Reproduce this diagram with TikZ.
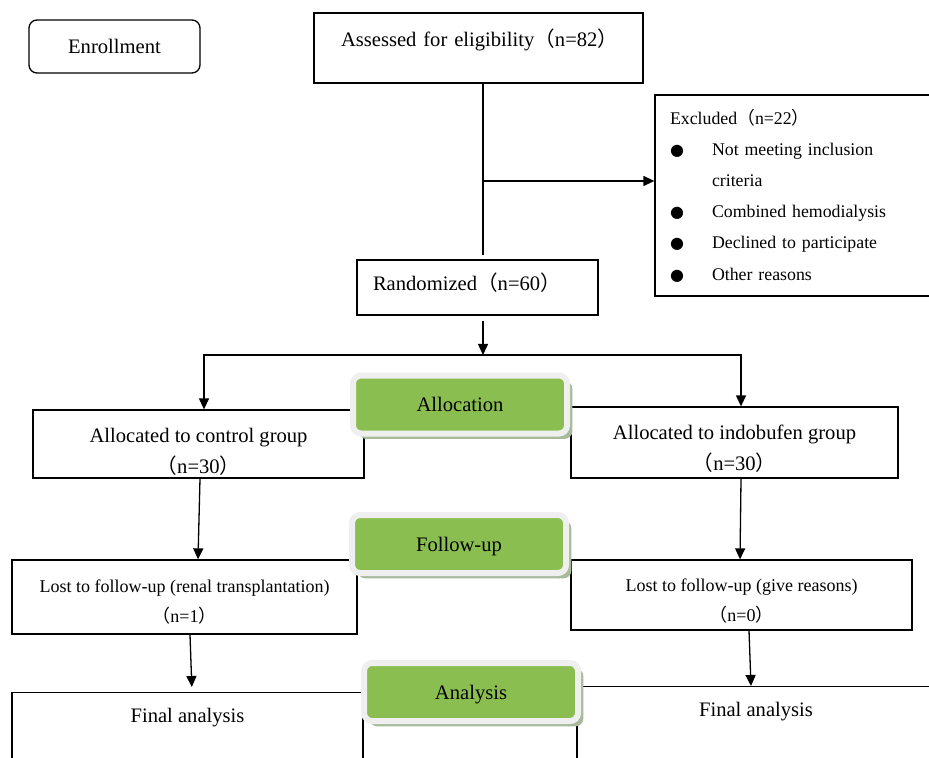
\documentclass[tikz,border=0pt]{standalone}
\usepackage{fontspec}
\setmainfont{Liberation Serif}
\newfontfamily\cjk{Noto Sans CJK SC}
\newfontfamily\symb{DejaVu Sans}
\usepackage{tikz}
\usetikzlibrary{arrows.meta, shadows}

\definecolor{stagegreen}{RGB}{139,190,80}
\definecolor{stagerim}{RGB}{239,239,239}
\definecolor{stageshade}{RGB}{169,185,155}

\newcommand{\fwl}{{\cjk （}}
\newcommand{\fwr}{{\cjk ）}}
\newcommand{\dotitem}{\makebox[21pt][l]{{\symb\fontsize{8}{8}\selectfont ●}}}
\newcommand{\lowerby}[1]{\rule{0pt}{#1}}

\begin{document}
\begin{tikzpicture}[x=0.5pt, y=-0.5pt, line width=0.65pt,
        >={Triangle[width=5pt,length=5.5pt]},
        box/.style={draw, inner sep=0pt, align=center,
            font=\fontsize{10.3}{15.5}\selectfont},
        small/.style={font=\fontsize{9}{15}\selectfont},
        stage/.style={fill=stagegreen, draw=stagerim, line width=3pt,
            rounded corners=4pt, minimum width=107pt, minimum height=29pt,
            text depth=0pt, font=\fontsize{10.3}{12}\selectfont,
            drop shadow={shadow xshift=2.7pt, shadow yshift=-2.7pt,
                fill=stageshade, opacity=1}}]
                \useasboundingbox (0,0) rectangle (929,758);
                \clip (0,0) rectangle (929,758);

                \node[box, rounded corners=4pt, minimum width=85.5pt, minimum height=26.5pt] (enroll) at (114.5, 46.5) {Enrollment};
                \node[box, align=left, text width=164.5pt, minimum height=35pt, text depth=10pt] (assess) at (478.5, 48) {\hspace*{13.5pt}Assessed for eligibility\fwl n=82\fwr};
                \node[box, align=left, text width=135pt, inner xsep=7.5pt, minimum height=100.5pt, font=\fontsize{8.9}{15.6}\selectfont] (excl) at (805, 195.5) {Excluded\fwl n=22\fwr\\
                    \dotitem Not meeting inclusion\\
                    \hspace*{21pt}criteria\\
                    \dotitem Combined hemodialysis\\
                    \dotitem Declined to participate\\
                    \dotitem Other reasons};
                \node[box, align=left, text width=120.5pt, minimum height=27.5pt, text depth=6pt] (rand) at (477.5, 287.5) {\hspace*{8pt}Randomized\fwl n=60\fwr};

                \node[box, minimum width=165.5pt, minimum height=34pt] (ctrl) at (198.5, 444) {\lowerby{15.3pt}Allocated to control group\\\fwl n=30\fwr};
                \node[box, minimum width=163.5pt, minimum height=35.5pt] (indo) at (734.5, 442.5) {\lowerby{13.3pt}Allocated to indobufen group\\\fwl n=30\fwr};
                \node[box, small, minimum width=172.5pt, minimum height=37pt] (lostl) at (184.5, 597) {\lowerby{11pt}Lost to follow-up (renal transplantation)\\\fwl n=1\fwr};
                \node[box, small, minimum width=170.5pt, minimum height=35pt] (lostr) at (741.5, 595) {\lowerby{12pt}Lost to follow-up (give reasons)\\\fwl n=0\fwr};
                \node[box, anchor=north, minimum width=175.5pt, inner ysep=8pt, text depth=60pt] (finl) at (187.5, 692) {Final analysis};
                \node[box, anchor=north, minimum width=179pt, inner ysep=8pt, text depth=60pt] (finr) at (756, 686) {Final analysis};

                \coordinate (fork) at (483, 181);
                \coordinate (split) at (483, 355);

                \draw[shorten >=2pt] (assess.south -| fork) -- (rand.north -| fork);
                \draw[->] (fork) -- (fork -| excl.west);
                \draw[->, shorten <=2.5pt] (rand.south -| split) -- (split);
                \draw[->] (split) -| ([xshift=2.75pt]ctrl.north);
                \draw[->] (split) -| ([xshift=3.25pt]indo.north);
                \draw[->] ([xshift=0.75pt]ctrl.south) -- ([xshift=6.75pt]lostl.north);
                \draw[->] ([xshift=3.25pt]indo.south) -- ([xshift=-0.75pt]lostr.north);
                \draw[->, shorten >=2.5pt] ([xshift=2.75pt]lostl.south) -- ([xshift=2.25pt]finl.north);
                \draw[->] ([xshift=3.75pt]lostr.south) -- ([xshift=-2.5pt]finr.north);

                \node[stage] (alloc) at (460, 404.5) {Allocation};
                \node[stage] (follow) at (459, 544) {Follow-up};
                \node[stage] (analysis) at (471, 692) {Analysis};
            \end{tikzpicture}
\end{document}
